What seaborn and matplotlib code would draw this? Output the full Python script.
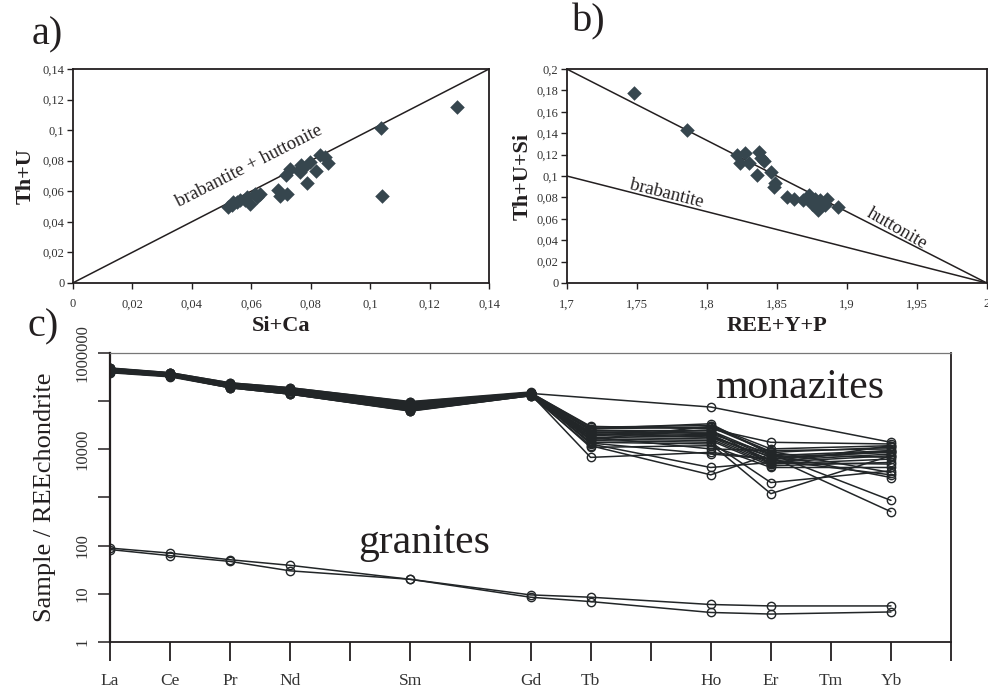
"""Monazite compositions: a) Th+U vs Si+Ca, b) Th+U+Si vs REE+Y+P, c) chondrite-normalised REE."""
import numpy as np
import pandas as pd
import matplotlib
matplotlib.use("Agg")
import matplotlib.pyplot as plt
from matplotlib.ticker import FixedLocator, FixedFormatter, FuncFormatter
import seaborn as sns

sns.set_style("ticks")
plt.rcParams["font.family"] = ["Liberation Serif", "DejaVu Serif"]
plt.rcParams["mathtext.fontset"] = "stix"

INK = "#231f20"
DOT = "#36464e"
OUTPUT_PATH = "out.png"

# ---- panel a: Th+U vs Si+Ca
a_sica = [0.1292, 0.1035, 0.1040, 0.0521, 0.0536, 0.0551, 0.0562, 0.0579, 0.0596,
          0.0613, 0.0629, 0.0618, 0.0540, 0.0585, 0.0691, 0.0697, 0.0721, 0.0717,
          0.0730, 0.0764, 0.0775, 0.0788, 0.0797, 0.0818, 0.0833, 0.0848, 0.0859, 0.0769]
a_thu = [0.1153, 0.1016, 0.0568, 0.0498, 0.0509, 0.0531, 0.0542, 0.0542, 0.0515,
         0.0585, 0.0581, 0.0563, 0.0531, 0.0563, 0.0611, 0.0568, 0.0585, 0.0705,
         0.0743, 0.0727, 0.0749, 0.0655, 0.0793, 0.0734, 0.0836, 0.0826, 0.0786, 0.0771]
a_line_x = [0.0, 0.14]
a_line_y = [0.0, 0.14]

# ---- panel b: Th+U+Si vs REE+Y+P
b_reeyp = [1.7483, 1.7857, 1.8214, 1.8274, 1.8238, 1.8305, 1.8370, 1.8386, 1.8410,
           1.8357, 1.8460, 1.8481, 1.8490, 1.8571, 1.8624, 1.8690, 1.8733, 1.8750,
           1.8798, 1.8810, 1.8845, 1.8862, 1.8940, 1.8774]
b_thusi = [0.1778, 0.1429, 0.1195, 0.1217, 0.1117, 0.1126, 0.1226, 0.1164, 0.1139,
           0.1008, 0.1033, 0.0899, 0.0936, 0.0805, 0.0783, 0.0774, 0.0821, 0.0736,
           0.0680, 0.0774, 0.0727, 0.0789, 0.0711, 0.0789]
hutt_x = [1.7, 2.0]
hutt_y = [0.2, 0.0]
brab_x = [1.7, 2.0]
brab_y = [0.1, 0.0]

# ---- panel c: sample / chondrite
ree_elements = ["La", "Ce", "Pr", "Nd", "Pm", "Sm", "Eu", "Gd", "Tb", "Dy",
                "Ho", "Er", "Tm", "Yb", "Lu"]
ree_ticklabels = ["La", "Ce", "Pr", "Nd", "", "Sm", "", "Gd", "Tb", "",
                  "Ho", "Er", "Tm", "Yb", ""]
c_yticks = [1, 10, 100, 1000, 10000, 100000, 1000000]
c_yticklabels = ["1", "10", "100", "", "10000", "", "1000000"]

mz_la = [4.6e5, 4.4e5, 4.8e5, 4.2e5, 4.5e5, 4.0e5, 4.7e5, 4.3e5, 4.1e5, 4.9e5, 4.4e5, 4.2e5,
         4.6e5, 4.0e5, 4.5e5, 4.8e5, 4.3e5, 4.1e5, 4.7e5, 3.9e5, 4.4e5, 4.2e5, 4.6e5, 4.0e5]
mz_ce = [3.7e5, 3.5e5, 3.9e5, 3.4e5, 3.6e5, 3.3e5, 3.8e5, 3.5e5, 3.4e5, 3.9e5, 3.6e5, 3.4e5,
         3.7e5, 3.3e5, 3.6e5, 3.8e5, 3.5e5, 3.4e5, 3.7e5, 3.2e5, 3.6e5, 3.5e5, 3.7e5, 3.3e5]
mz_pr = [2.2e5, 2.1e5, 2.4e5, 2.0e5, 2.2e5, 1.9e5, 2.3e5, 2.1e5, 2.0e5, 2.4e5, 2.2e5, 2.0e5,
         2.3e5, 1.9e5, 2.2e5, 2.3e5, 2.1e5, 2.0e5, 2.3e5, 1.9e5, 2.2e5, 2.1e5, 2.2e5, 2.0e5]
mz_nd = [1.7e5, 1.6e5, 1.9e5, 1.5e5, 1.7e5, 1.4e5, 1.8e5, 1.6e5, 1.5e5, 1.9e5, 1.7e5, 1.5e5,
         1.8e5, 1.4e5, 1.7e5, 1.8e5, 1.6e5, 1.5e5, 1.8e5, 1.4e5, 1.7e5, 1.6e5, 1.7e5, 1.5e5]
mz_sm = [8.0e4, 7.2e4, 9.6e4, 6.5e4, 8.4e4, 6.2e4, 9.0e4, 7.6e4, 6.8e4, 9.8e4, 8.2e4, 7.0e4,
         8.8e4, 6.3e4, 7.8e4, 9.3e4, 7.4e4, 6.6e4, 8.6e4, 6.4e4, 8.0e4, 7.1e4, 8.5e4, 6.9e4]
mz_gd = [1.45e5, 1.4e5, 1.5e5, 1.35e5, 1.45e5, 1.3e5, 1.5e5, 1.4e5, 1.35e5, 1.55e5, 1.45e5, 1.4e5,
         1.5e5, 1.3e5, 1.4e5, 1.5e5, 1.4e5, 1.35e5, 1.45e5, 1.3e5, 1.45e5, 1.4e5, 1.5e5, 1.35e5]
mz_tb = [np.nan, 6800, 28800, 26600, 24500, 22700, 20900, 19300, 17800, 16400, 15200, 14000,
         12900, 11900, 11000, 30000, 25000, 21000, 18000, 23000, 27000, 13500, 20000, 16000]
mz_ho = [75500, 8650, 31200, 28800, 24500, 22700, 19300, 17800, 16400, 15200, 14000, 12900,
         4200, 2950, 11900, 26600, 21000, 18000, 10200, 20000, 33900, 8000, 25000, 30000]
mz_er = [np.nan, 6280, 10200, 8650, 7380, 6800, 5800, 5350, 4940, 4560, 2040, 1200,
         5350, 7980, 4200, 14000, 8000, 7000, 9400, 6000, 7800, 6300, 5000, 9000]
mz_yb = [14000, 9400, 11900, 11000, 9400, 8650, 7980, 7380, 6280, 5350, 3580, 7380,
         4940, 6800, 4200, 12900, 870, 506, 10200, 2950, 2600, 9000, 12000, 3300]

gr_1 = [89, 70, 51, 39, 20, 9.5, 8.5, 6.0, 5.6, 5.6]
gr_2 = [83, 62, 47, 30, 20, 8.5, 6.9, 4.1, 3.8, 4.2]
measured = ["La", "Ce", "Pr", "Nd", "Sm", "Gd", "Tb", "Ho", "Er", "Yb"]


def comma(v, _pos=None):
    return f"{round(v, 3):g}".replace(".", ",")


def style_small(ax):
    for s in ax.spines.values():
        s.set_linewidth(1.3)
        s.set_color(INK)
    ax.tick_params(direction="out", length=4, width=1, color=INK,
                   labelsize=9, labelcolor="#333333")
    ax.tick_params(axis="x", pad=7)
    ax.tick_params(axis="y", pad=2)
    ax.xaxis.set_major_formatter(FuncFormatter(comma))
    ax.yaxis.set_major_formatter(FuncFormatter(comma))


def build():
    fig = plt.figure(figsize=(9.88, 6.9), dpi=100)
    ax_a = fig.add_axes([0.0736, 0.5899, 0.4214, 0.3101])
    ax_b = fig.add_axes([0.5736, 0.5899, 0.4251, 0.3101])
    ax_c = fig.add_axes([0.1113, 0.0696, 0.8513, 0.4188])

    # a)
    sns.lineplot(x=a_line_x, y=a_line_y, color=INK, lw=1.1, ax=ax_a)
    sns.scatterplot(x=a_sica, y=a_thu, marker="D", s=55, color=DOT,
                    linewidth=0, ax=ax_a, zorder=3)
    ax_a.set_xlim(0, 0.14)
    ax_a.set_ylim(0, 0.14)
    ax_a.set_xticks(np.arange(0, 0.1401, 0.02))
    ax_a.set_yticks(np.arange(0, 0.1401, 0.02))
    style_small(ax_a)
    ax_a.set_xlabel("Si+Ca", fontsize=16, fontweight="bold", color=INK, labelpad=4)
    ax_a.set_ylabel("Th+U", fontsize=16, fontweight="bold", color=INK, labelpad=5)
    ax_a.text(0.0592, 0.0765, "brabantite + huttonite", rotation=27, fontsize=13.5,
              color=INK, ha="center", va="center", rotation_mode="anchor")

    # b)
    sns.lineplot(x=hutt_x, y=hutt_y, color=INK, lw=1.1, ax=ax_b)
    sns.lineplot(x=brab_x, y=brab_y, color=INK, lw=1.1, ax=ax_b)
    sns.scatterplot(x=b_reeyp, y=b_thusi, marker="D", s=55, color=DOT,
                    linewidth=0, ax=ax_b, zorder=3)
    ax_b.set_xlim(1.7, 2.0)
    ax_b.set_ylim(0, 0.2)
    ax_b.set_xticks(np.arange(1.7, 2.001, 0.05))
    ax_b.set_yticks(np.arange(0, 0.2001, 0.02))
    style_small(ax_b)
    ax_b.set_xlabel("REE+Y+P", fontsize=16, fontweight="bold", color=INK, labelpad=4)
    ax_b.set_ylabel("Th+U+Si", fontsize=16, fontweight="bold", color=INK, labelpad=3)
    ax_b.text(1.7714, 0.0838, "brabantite", rotation=-14, fontsize=13.5, color=INK,
              ha="center", va="center", rotation_mode="anchor")
    ax_b.text(1.9357, 0.0511, "huttonite", rotation=-30, fontsize=13.5, color=INK,
              ha="center", va="center", rotation_mode="anchor")

    # c)
    pos = {el: i for i, el in enumerate(ree_elements)}
    mz_cols = [mz_la, mz_ce, mz_pr, mz_nd, mz_sm, mz_gd, mz_tb, mz_ho, mz_er, mz_yb]
    rows = []
    for el, col in zip(measured, mz_cols):
        for k, v in enumerate(col):
            rows.append({"sample": f"m{k}", "x": pos[el], "value": v})
    for name, col in (("g1", gr_1), ("g2", gr_2)):
        for el, v in zip(measured, col):
            rows.append({"sample": name, "x": pos[el], "value": v})
    df = pd.DataFrame(rows)

    ax_c.set_yscale("log")
    sns.lineplot(data=df, x="x", y="value", units="sample", estimator=None,
                 color="#222628", lw=1.1, marker="o", markersize=6,
                 markerfacecolor="none", markeredgecolor="#222628",
                 markeredgewidth=1.0, ax=ax_c)
    ax_c.set_xlim(0, 14)
    ax_c.set_ylim(1, 1e6)
    ax_c.xaxis.set_major_locator(FixedLocator(range(len(ree_elements))))
    ax_c.xaxis.set_major_formatter(FixedFormatter(ree_ticklabels))
    ax_c.yaxis.set_major_locator(FixedLocator(c_yticks))
    ax_c.yaxis.set_major_formatter(FixedFormatter(c_yticklabels))
    ax_c.yaxis.set_minor_locator(FixedLocator([]))
    ax_c.tick_params(axis="x", direction="out", length=14, width=1.3, color=INK,
                     labelsize=12.5, labelcolor="#333333", pad=8)
    ax_c.tick_params(axis="y", direction="out", length=9, width=1.1, color=INK,
                     labelsize=12, labelcolor="#333333", pad=5, labelrotation=90)
    for lab in ax_c.get_yticklabels():
        lab.set_va("center")
    ax_c.spines["top"].set_color("#777777")
    ax_c.spines["top"].set_linewidth(0.9)
    ax_c.spines["left"].set_linewidth(1.6)
    ax_c.spines["left"].set_color(INK)
    for s in ("bottom", "right"):
        ax_c.spines[s].set_linewidth(1.3)
        ax_c.spines[s].set_color(INK)
    ax_c.set_xlabel("")
    ax_c.set_ylabel("Sample / REEchondrite", fontsize=19, color=INK, labelpad=13)
    ax_c.text(10.07, 1.15e5, "monazites", fontsize=30, color=INK, va="baseline")
    ax_c.text(4.13, 70, "granites", fontsize=30, color=INK, va="baseline")

    fig.text(0.032, 0.935, "a)", fontsize=29, color=INK)
    fig.text(0.579, 0.954, "b)", fontsize=29, color=INK)
    fig.text(0.028, 0.512, "c)", fontsize=29, color=INK)

    fig.savefig(OUTPUT_PATH, dpi=100)
    plt.close(fig)
    print(f"Saved: {OUTPUT_PATH}")


if __name__ == "__main__":
    build()
